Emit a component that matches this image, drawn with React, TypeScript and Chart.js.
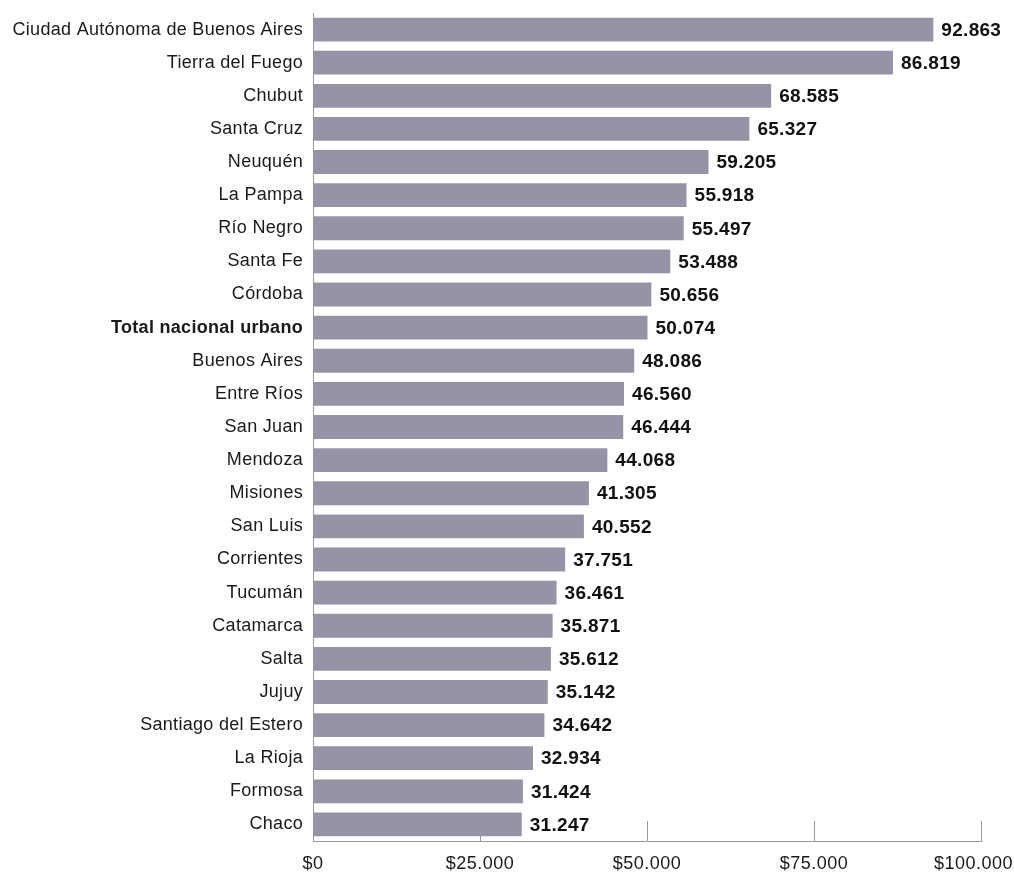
import React, { useEffect, useRef } from "react";
import { Chart, registerables } from "chart.js";

Chart.register(...registerables);

const categories: string[] = [
  "Ciudad Autónoma de Buenos Aires",
  "Tierra del Fuego",
  "Chubut",
  "Santa Cruz",
  "Neuquén",
  "La Pampa",
  "Río Negro",
  "Santa Fe",
  "Córdoba",
  "Total nacional urbano",
  "Buenos Aires",
  "Entre Ríos",
  "San Juan",
  "Mendoza",
  "Misiones",
  "San Luis",
  "Corrientes",
  "Tucumán",
  "Catamarca",
  "Salta",
  "Jujuy",
  "Santiago del Estero",
  "La Rioja",
  "Formosa",
  "Chaco",
];

const values: number[] = [
  92863, 86819, 68585, 65327, 59205, 55918, 55497, 53488, 50656, 50074,
  48086, 46560, 46444, 44068, 41305, 40552, 37751, 36461, 35871, 35612,
  35142, 34642, 32934, 31424, 31247,
];

const xTickValues: number[] = [0, 25000, 50000, 75000, 100000];
const xTickLabels: string[] = ["$0", "$25.000", "$50.000", "$75.000", "$100.000"];
const highlightLabel = "Total nacional urbano";

const FONT = "'Liberation Sans', Arial, Helvetica, sans-serif";
const BAR_COLOR = "#9793a7";
const AXIS_COLOR = "#9a9a9a";

function fmt(v: number): string {
  const th = Math.floor(v / 1000);
  const rest = String(v % 1000).padStart(3, "0");
  return th > 0 ? `${th}.${rest}` : String(v);
}

const customPlugin = {
  id: "customDraw",
  beforeDraw(chart: any) {
    (chart.ctx as any).letterSpacing = "0.3px";
  },
  beforeDatasetsDraw(chart: any) {
    const ctx = chart.ctx;
    const xs = chart.scales.x;
    const bottom = chart.chartArea.bottom;
    ctx.save();
    ctx.strokeStyle = AXIS_COLOR;
    ctx.lineWidth = 1;
    xTickValues.forEach((v) => {
      if (v === 0) return;
      const px = Math.round(xs.getPixelForValue(v)) + 0.5;
      ctx.beginPath();
      ctx.moveTo(px, bottom - 20);
      ctx.lineTo(px, bottom);
      ctx.stroke();
    });
    ctx.restore();
  },
  afterDatasetsDraw(chart: any) {
    const ctx = chart.ctx;
    const xs = chart.scales.x;
    const meta = chart.getDatasetMeta(0);
    ctx.save();
    (ctx as any).letterSpacing = "0.3px";
    ctx.font = `bold 19px ${FONT}`;
    ctx.fillStyle = "#111111";
    ctx.textAlign = "left";
    ctx.textBaseline = "middle";
    meta.data.forEach((bar: any, i: number) => {
      ctx.fillText(fmt(values[i]), bar.x + 8, bar.y + 1);
    });
    // x tick labels
    (ctx as any).letterSpacing = "0.5px";
    ctx.font = `18px ${FONT}`;
    ctx.fillStyle = "#1a1a1a";
    ctx.textAlign = "left";
    ctx.textBaseline = "middle";
    const W = chart.width;
    xTickValues.forEach((v, i) => {
      const px = xs.getPixelForValue(v);
      const w = ctx.measureText(xTickLabels[i]).width;
      let left = px - w / 2;
      if (left + w > W - 1) left = W - 1 - w;
      ctx.fillText(xTickLabels[i], left, chart.chartArea.bottom + 23);
    });
    ctx.restore();
  },
};

export default function App() {
  const ref = useRef<HTMLCanvasElement | null>(null);

  useEffect(() => {
    document.body.style.margin = "0";
    if (!ref.current) return;
    const chart = new Chart(ref.current, {
      type: "bar",
      data: {
        labels: categories,
        datasets: [
          {
            data: values,
            backgroundColor: BAR_COLOR,
            borderWidth: 0,
            barPercentage: 0.72,
            categoryPercentage: 1,
          },
        ],
      },
      options: {
        indexAxis: "y",
        animation: false,
        responsive: false,
        maintainAspectRatio: false,
        layout: { padding: { top: 13, right: 33, left: 0, bottom: 0 } },
        plugins: {
          legend: { display: false },
          tooltip: { enabled: false },
          title: { display: false },
        },
        scales: {
          x: {
            type: "linear",
            min: 0,
            max: 100000,
            grid: { display: false, drawTicks: false },
            border: { display: true, color: AXIS_COLOR, width: 1 },
            ticks: { display: false, stepSize: 25000 },
            afterFit(scale: any) {
              scale.height = 35;
              scale.paddingLeft = 0;
              scale.paddingRight = 0;
            },
          },
          y: {
            grid: { display: false, drawTicks: false },
            border: { display: true, color: AXIS_COLOR, width: 1 },
            ticks: {
              padding: 10,
              color: "#1a1a1a",
              autoSkip: false,
              font: (c: any) => ({
                family: FONT,
                size: 18,
                weight: categories[c.index] === highlightLabel ? "bold" : "normal",
              }),
            },
            afterFit(scale: any) {
              scale.width = 313;
              scale.paddingTop = 0;
              scale.paddingBottom = 0;
            },
          },
        },
      },
      plugins: [customPlugin],
    });
    return () => chart.destroy();
  }, []);

  return (
    <div style={{ width: 1014, height: 876 }}>
      <canvas ref={ref} width={1014} height={876} style={{ width: 1014, height: 876, display: "block" }} />
    </div>
  );
}
